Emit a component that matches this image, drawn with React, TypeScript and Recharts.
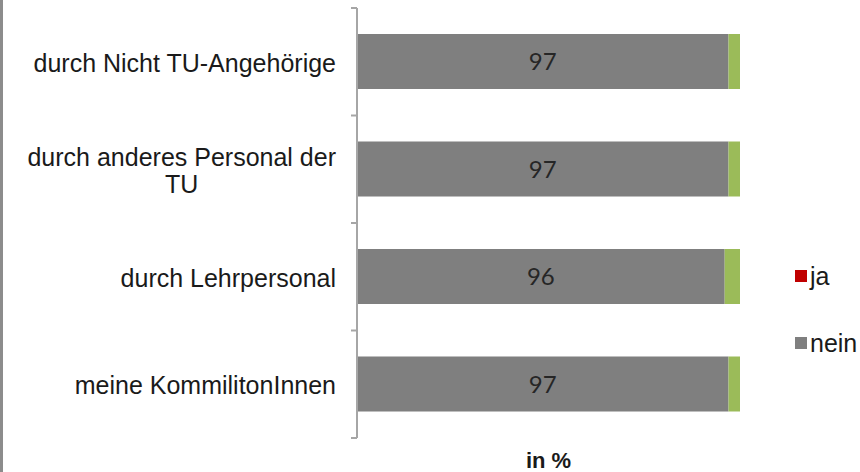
import { BarChart, Bar, XAxis, YAxis, Legend, LabelList } from 'recharts';

// categories, top to bottom
const categories = [
  'durch Nicht TU-Angehörige',
  'durch anderes Personal der\nTU',
  'durch Lehrpersonal',
  'meine KommilitonInnen',
];
const jaValues = [0, 0, 0, 0];
const neinValues = [97, 97, 96, 97];
const restValues = [3, 3, 4, 3];

const data = categories.map((c, i) => ({
  name: c,
  ja: jaValues[i],
  nein: neinValues[i],
  rest: restValues[i],
}));

const AXIS_FONT = '"Liberation Sans", Arial, sans-serif';
const FS = 25;

let ctx: CanvasRenderingContext2D | null = null;
function textWidth(s: string) {
  if (!ctx) ctx = document.createElement('canvas').getContext('2d');
  if (!ctx) return s.length * 12;
  ctx.font = `${FS}px ${AXIS_FONT}`;
  return ctx.measureText(s).width;
}

function CategoryTick(props: any) {
  const { x, y, payload, index, visibleTicksCount } = props;
  const half = payload.offset || 53.75;
  const lines = String(payload.value).split('\n');
  const lh = 27;
  const y0 = y - ((lines.length - 1) * lh) / 2 + 1;
  const w0 = textWidth(lines[0]);
  const axisX = x + 21;
  return (
    <g>
      <line x1={axisX - 6} x2={axisX} y1={y - half} y2={y - half} stroke="#a6a6a6" strokeWidth={2} />
      {index === visibleTicksCount - 1 && (
        <line x1={axisX - 6} x2={axisX} y1={y + half} y2={y + half} stroke="#a6a6a6" strokeWidth={2} />
      )}
      {lines.map((l, i) => (
        <text
          key={i}
          x={i === 0 ? x : x - w0 / 2}
          y={y0 + i * lh}
          textAnchor={i === 0 ? 'end' : 'middle'}
          dominantBaseline="central"
          fill="#1a1a1a"
          fontSize={FS}
          fontFamily={AXIS_FONT}
        >
          {l}
        </text>
      ))}
    </g>
  );
}

function LegendBox(props: any) {
  const items = (props.payload || []).filter((p: any) => p.value !== 'keine Angabe');
  return (
    <div style={{ fontFamily: AXIS_FONT, fontSize: FS, color: '#1a1a1a' }}>
      {items.map((p: any) => (
        <div key={p.value} style={{ display: 'flex', alignItems: 'center', height: 67 }}>
          <span style={{ width: 12, height: 12, background: p.color, marginRight: 3, display: 'inline-block' }} />
          <span style={{ lineHeight: '28px' }}>{p.value}</span>
        </div>
      ))}
    </div>
  );
}

export default function App() {
  return (
    <div style={{ position: 'absolute', left: 0, top: 0, width: 860, height: 472, background: '#fff' }}>
      <BarChart
        width={860}
        height={472}
        data={data}
        layout="vertical"
        margin={{ top: 8, right: 120, left: 0, bottom: 0 }}
      >
        <XAxis
          type="number"
          domain={[0, 100]}
          tick={false}
          tickLine={false}
          axisLine={false}
          height={34}
          label={{
            value: 'in %',
            position: 'insideBottom',
            offset: 4,
            fill: '#1a1a1a',
            fontSize: 22,
            fontWeight: 700,
            fontFamily: AXIS_FONT,
          }}
        />
        <YAxis
          type="category"
          dataKey="name"
          width={357}
          tickSize={0}
          tickMargin={21}
          tickLine={false}
          axisLine={{ stroke: '#a6a6a6', strokeWidth: 2 }}
          tick={<CategoryTick />}
          interval={0}
        />
        <Legend
          layout="horizontal"
          align="center"
          verticalAlign="middle"
          content={<LegendBox />}
          wrapperStyle={{ left: 795, top: 242, width: 70 }}
        />
        <Bar dataKey="ja" name="ja" stackId="s" fill="#c00000" barSize={55} isAnimationActive={false} />
        <Bar dataKey="nein" name="nein" stackId="s" fill="#7f7f7f" barSize={55} isAnimationActive={false}>
          <LabelList
            dataKey="nein"
            position="center"
            fill="#262626"
            fontSize={24}
            fontFamily="Lato, 'Open Sans', sans-serif"
          />
        </Bar>
        <Bar dataKey="rest" name="keine Angabe" stackId="s" fill="#9bbb59" barSize={55} isAnimationActive={false} />
      </BarChart>
      <div style={{ position: 'absolute', left: 0, top: 0, width: 3, height: 472, background: '#8c8c8c' }} />
    </div>
  );
}
